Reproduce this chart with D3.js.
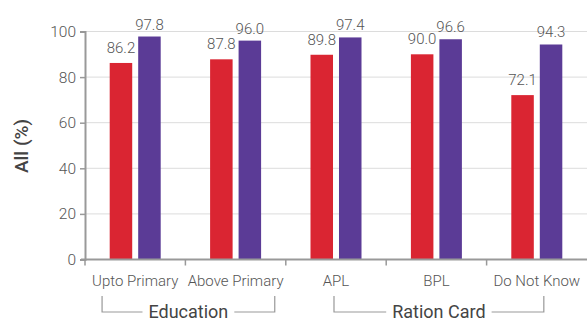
<!DOCTYPE html>
<html><head><meta charset="utf-8">
<script src="https://cdn.jsdelivr.net/npm/d3@7"></script>
<style>
body{margin:0;background:#fff;}
text{font-family:Roboto,"Open Sans",sans-serif;}
</style></head>
<body><svg id="c" width="587" height="322"></svg>
<script>
const categories = ["Upto Primary","Above Primary","APL","BPL","Do Not Know"];
const seriesA = [86.2, 87.8, 89.8, 90.0, 72.1];   // red
const seriesB = [97.8, 96.0, 97.4, 96.6, 94.3];   // purple
const yTicks = [0,20,40,60,80,100];
const groups = [
  {label:"Education", from:"Upto Primary", to:"Above Primary", f0:0.17, f1:0.89},
  {label:"Ration Card", from:"APL", to:"Do Not Know", f0:0.48, f1:0.57}
];
const colors = ["#DA2532","#5B3B96"];

const svg = d3.select("#c");
const m = {l:85, r:0, t:31.5, b:62.5};
const W = 587, H = 322;
const x = d3.scaleBand().domain(categories).range([m.l, W - m.r]).padding(0);
const y = d3.scaleLinear().domain([0,100]).range([H - m.b, m.t]);
const sub = d3.scaleBand().domain([0,1]).range([0, x.bandwidth()]).paddingInner(0.21).paddingOuter(0.867);

// gridlines
svg.append("g").selectAll("line").data(yTicks.filter(d=>d>0)).join("line")
  .attr("x1", m.l).attr("x2", W).attr("y1", d=>y(d)).attr("y2", d=>y(d))
  .attr("stroke","#dcdcdc").attr("stroke-width",1);

// bars
const series = [seriesA, seriesB];
const offsets = [10, 7];
series.forEach((s,si)=>{
  const g = svg.append("g");
  g.selectAll("rect").data(s).join("rect")
    .attr("x",(d,i)=>x(categories[i]) + sub(si))
    .attr("width", sub.bandwidth())
    .attr("y", d=>y(d))
    .attr("height", d=>y(0)-y(d))
    .attr("fill", colors[si]);
  g.selectAll("text").data(s).join("text")
    .attr("x",(d,i)=>x(categories[i]) + sub(si) + sub.bandwidth()/2)
    .attr("y", d=>y(d) - offsets[si])
    .attr("text-anchor","middle")
    .attr("font-size",15).attr("font-weight",300).attr("fill","#555")
    .text(d=>d.toFixed(1));
});

// y axis
const ya = svg.append("g").attr("transform",`translate(${m.l},0)`)
  .call(d3.axisLeft(y).tickValues(yTicks).tickSize(5).tickPadding(4));
ya.select(".domain").attr("stroke","#999").attr("stroke-width",2);
ya.selectAll(".tick line").attr("stroke","#999").attr("stroke-width",1.5);
ya.selectAll(".tick text").attr("font-size",15.5).attr("font-weight",300).attr("fill","#555")
  .attr("font-family","Roboto");

// x axis
const xa = svg.append("g").attr("transform",`translate(0,${y(0)})`)
  .call(d3.axisBottom(x).tickSize(0).tickPadding(16));
xa.select(".domain").attr("stroke","#999").attr("stroke-width",2).attr("d",`M${m.l-4},0H${W}`);
xa.selectAll(".tick text").attr("font-size",15).attr("font-weight",300).attr("fill","#555")
  .attr("font-family","Roboto");
// boundary ticks
xa.append("g").selectAll("line").data(categories).join("line")
  .attr("x1",d=>x(d)).attr("x2",d=>x(d)).attr("y1",0).attr("y2",6)
  .attr("stroke","#999").attr("stroke-width",1.5);

// group brackets
const by0 = 296, by1 = 312;
groups.forEach(g=>{
  const x0 = x(g.from) + g.f0 * x.bandwidth();
  const x1 = x(g.to) + g.f1 * x.bandwidth();
  const cx = (x0 + x1)/2;
  const t = svg.append("text").attr("x",cx).attr("y",318).attr("text-anchor","middle")
    .attr("font-size",18).attr("font-weight",400).attr("fill","#444").text(g.label);
  const w = t.node().getComputedTextLength();
  const gap = 6;
  svg.append("path")
    .attr("d",`M${x0},${by0}V${by1}H${cx - w/2 - gap}M${cx + w/2 + gap},${by1}H${x1}V${by0}`)
    .attr("fill","none").attr("stroke","#999").attr("stroke-width",1.2);
});

// y label
svg.append("text").attr("transform",`translate(28,146) rotate(-90)`)
  .attr("text-anchor","middle").attr("font-size",19).attr("font-weight",500).attr("fill","#444")
  .text("All (%)");
</script></body></html>
